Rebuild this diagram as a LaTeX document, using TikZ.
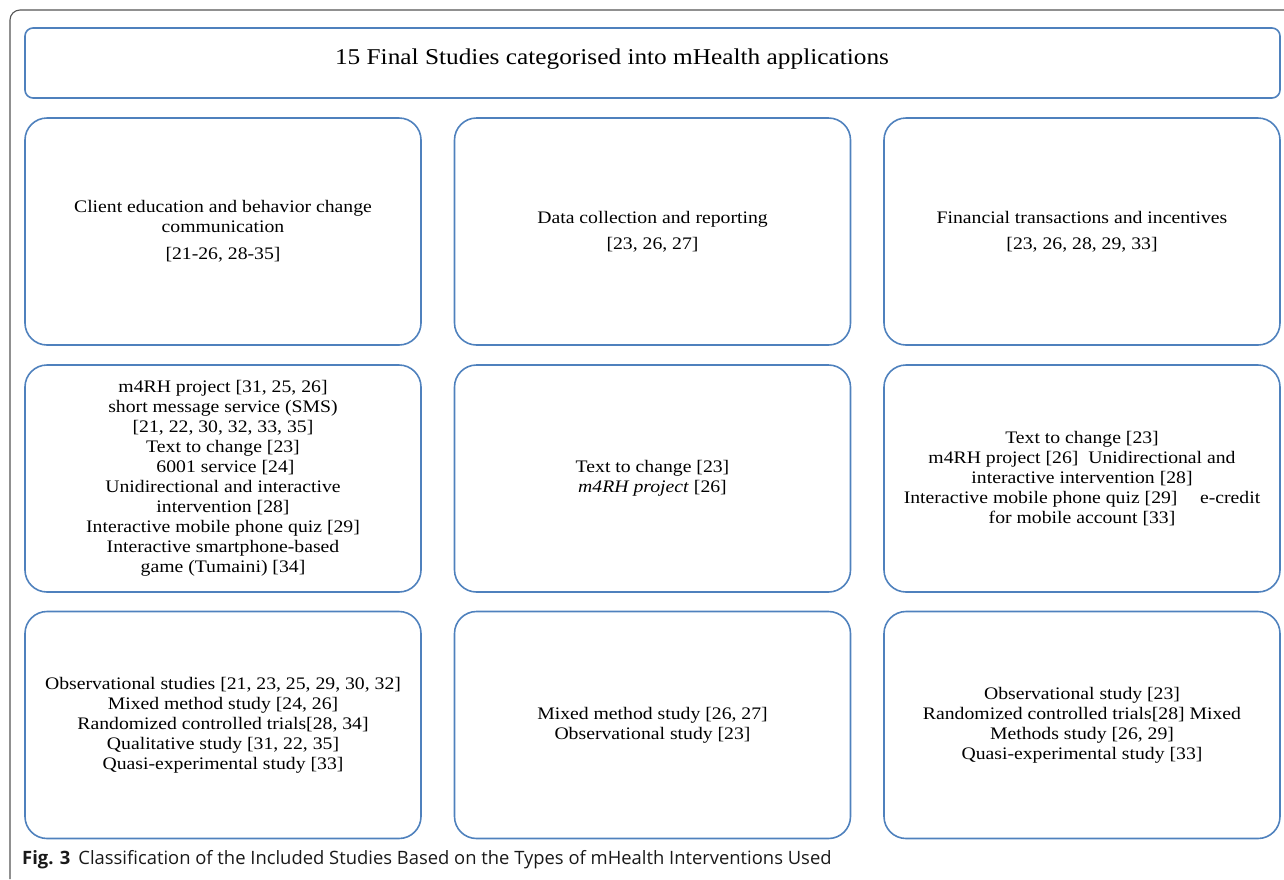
\documentclass[tikz,border=0pt]{standalone}
\usepackage{fontspec}
\setmainfont{Liberation Serif}[FakeStretch=1.12]
\newfontfamily\capfont{Open Sans}
\definecolor{boxblue}{HTML}{4F81BD}
\definecolor{framegray}{HTML}{555555}
\begin{document}
\begin{tikzpicture}[x=1pt,y=-1pt,
  box/.style={draw=boxblue, line width=1.6pt, rounded corners=22pt,
    minimum width=396pt, minimum height=227pt, align=center,
    font=\fontsize{17.6}{20}\selectfont, inner sep=0pt},
  titlebox/.style={draw=boxblue, line width=1.6pt, rounded corners=8pt,
    minimum width=1255pt, minimum height=70pt},
  titletext/.style={font=\fontsize{22.6}{26}\selectfont, inner sep=0pt},
  captext/.style={font=\capfont\fontsize{18.4}{21}\selectfont, anchor=west, inner sep=0pt, text=black!90}
]
\useasboundingbox (0,0) rectangle (1284,879);
\draw[framegray, line width=1.1pt] (10,879) -- (10,20) arc[start angle=180, end angle=270, radius=10] -- (1284,10);

\node[titlebox] (title) at (652.5,63) {};
\node[titletext] (titlelabel) at (612,59) {15 Final Studies categorised into mHealth applications};

\node[box] (a1) at (223,231.5) {Client education and behavior change\\communication\\[7pt]{}[21-26, 28-35]};
\node[box] (a2) at (652.5,231.5) {Data collection and reporting\\[6pt]{}[23, 26, 27]};
\node[box] (a3) at (1082,231.5) {Financial transactions and incentives\\[6pt]{}[23, 26, 28, 29, 33]};

\node[box] (b1) at (223,478.5) {m4RH project [31, 25, 26]\\short message service (SMS)\\{}[21, 22, 30, 32, 33, 35]\\Text to change [23]\\\ 6001 service [24]\\Unidirectional and interactive\\intervention [28]\\Interactive mobile phone quiz [29]\\Interactive smartphone-based\\game (Tumaini) [34]};
\node[box] (b2) at (652.5,478.5) {Text to change [23]\\\textit{m4RH project} [26]};
\node[box] (b3) at (1082,478.5) {Text to change [23]\\m4RH project [26]\ \ Unidirectional and\\interactive intervention [28]\\Interactive mobile phone quiz [29]\quad\ e-credit\\for mobile account [33]};

\node[box] (c1) at (223,725) {Observational studies [21, 23, 25, 29, 30, 32]\\Mixed method study [24, 26]\\Randomized controlled trials[28, 34]\\Qualitative study [31, 22, 35]\\Quasi-experimental study [33]};
\node[box] (c2) at (652.5,725) {Mixed method study [26, 27]\\Observational study [23]};
\node[box] (c3) at (1082,725) {Observational study [23]\\Randomized controlled trials[28] Mixed\\Methods study [26, 29]\\Quasi-experimental study [33]};

\node[captext] (caption) at (22,860) {\textbf{Fig. 3}\hspace{8pt}Classification of the Included Studies Based on the Types of mHealth Interventions Used};
\end{tikzpicture}
\end{document}
